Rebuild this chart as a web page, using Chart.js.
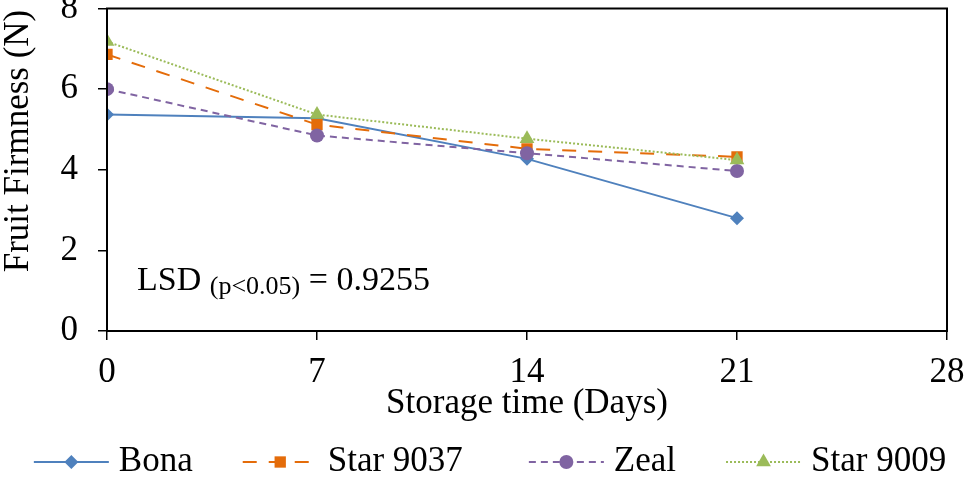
<!DOCTYPE html>
<html>
<head>
<meta charset="utf-8">
<script src="https://cdn.jsdelivr.net/npm/chart.js@4.4.1/dist/chart.umd.min.js"></script>
<style>
  html, body { margin: 0; padding: 0; background: #fff; }
</style>
</head>
<body>
<canvas id="firmChart" width="966" height="480"></canvas>
<script>
// --- Data ---
const days = [0, 7, 14, 21];
const bona = [5.37, 5.28, 4.27, 2.80];
const star9037 = [6.86, 5.12, 4.52, 4.32];
const zeal = [6.00, 4.85, 4.41, 3.97];
const star9009 = [7.18, 5.37, 4.77, 4.24];
const xTicks = [0, 7, 14, 21, 28];
const yTicks = [0, 2, 4, 6, 8];
const lsdText = { main: 'LSD', sub: '(p<0.05)', tail: ' = 0.9255' };

const FONT = '"Liberation Serif", "Times New Roman", serif';

// series styling (Excel-like)
const series = [
  { label: 'Bona',      values: bona,     color: '#4F81BD', dash: [],       style: 'rectRot',  radius: 7,   order: 4 },
  { label: 'Star 9037', values: star9037, color: '#E46C0A', dash: [14, 12], style: 'rect',     radius: 8,   order: 3 },
  { label: 'Zeal',      values: zeal,     color: '#8064A2', dash: [7, 5],   style: 'circle',   radius: 7,   order: 2 },
  { label: 'Star 9009', values: star9009, color: '#9BBB59', dash: [2, 2],   style: 'triangle', radius: 8.5, order: 1 }
];

function marker(g, style, cx, cy, r) {
  g.beginPath();
  if (style === 'rectRot') {
    g.moveTo(cx, cy - r); g.lineTo(cx + r, cy); g.lineTo(cx, cy + r); g.lineTo(cx - r, cy);
  } else if (style === 'rect') {
    const h = r * Math.SQRT1_2;
    g.rect(cx - h, cy - h, 2 * h, 2 * h);
  } else if (style === 'circle') {
    g.arc(cx, cy, r, 0, Math.PI * 2);
  } else {
    const a = Math.PI * 2 / 3;
    g.moveTo(cx, cy - r);
    g.lineTo(cx + r * Math.sin(a), cy - r * Math.cos(a));
    g.lineTo(cx - r * Math.sin(a), cy - r * Math.cos(a));
  }
  g.closePath();
  g.fill();
}

const datasets = series.map(s => ({
  label: s.label,
  data: days.map((d, i) => ({ x: d, y: s.values[i] })),
  borderColor: s.color,
  backgroundColor: s.color,
  borderWidth: 2,
  borderDash: s.dash,
  pointStyle: s.style,
  pointRadius: s.radius,
  pointBorderWidth: 0,
  pointBackgroundColor: s.color,
  tension: 0,
  order: s.order
}));

// frame, y title, LSD note and the legend row
const extras = {
  id: 'extras',
  afterDraw(chart) {
    const { ctx, chartArea: a } = chart;
    ctx.save();
    ctx.strokeStyle = '#000';
    ctx.lineWidth = 2;
    ctx.strokeRect(a.left, a.top, a.right - a.left, a.bottom - a.top);

    // y axis title
    ctx.fillStyle = '#000';
    ctx.font = '35px ' + FONT;
    ctx.textAlign = 'center';
    ctx.textBaseline = 'middle';
    ctx.translate(19, 141);
    ctx.rotate(-Math.PI / 2);
    ctx.fillText('Fruit Firmness (N)', 0, 0);
    ctx.restore();

    // LSD annotation
    ctx.save();
    ctx.fillStyle = '#000';
    ctx.textAlign = 'left';
    ctx.textBaseline = 'alphabetic';
    let x = a.left + 30;
    const base = a.bottom - 41;
    ctx.font = '34px ' + FONT;
    ctx.fillText(lsdText.main, x, base);
    x += ctx.measureText(lsdText.main + ' ').width;
    ctx.font = '26px ' + FONT;
    ctx.fillText(lsdText.sub, x, base + 4);
    x += ctx.measureText(lsdText.sub).width;
    ctx.font = '34px ' + FONT;
    ctx.fillText(lsdText.tail, x, base);
    ctx.restore();

    // legend: line sample + marker + label
    ctx.save();
    ctx.font = '35px ' + FONT;
    const lineLen = 75, textGap = 10, gaps = [50, 66, 50], ly = 462;
    const widths = series.map(s => lineLen + textGap + ctx.measureText(s.label).width);
    const total = widths.reduce((p, w) => p + w, 0) + gaps.reduce((p, g) => p + g, 0);
    let lx = 490 - total / 2;
    series.forEach((s, i) => {
      ctx.strokeStyle = s.color;
      ctx.lineWidth = 2;
      ctx.setLineDash(s.dash);
      ctx.beginPath(); ctx.moveTo(lx, ly); ctx.lineTo(lx + lineLen, ly); ctx.stroke();
      ctx.setLineDash([]);
      ctx.fillStyle = s.color;
      marker(ctx, s.style, lx + lineLen / 2, ly, s.radius);
      ctx.fillStyle = '#000';
      ctx.textAlign = 'left';
      ctx.textBaseline = 'middle';
      ctx.fillText(s.label, lx + lineLen + textGap, ly);
      lx += widths[i] + (gaps[i] || 0);
    });
    ctx.restore();
  }
};

const chart = new Chart(document.getElementById('firmChart'), {
  type: 'line',
  data: { datasets: datasets },
  options: {
    responsive: false,
    animation: false,
    devicePixelRatio: 1,
    layout: { padding: { top: 7, right: 19, left: 0, bottom: 55 } },
    scales: {
      x: {
        type: 'linear',
        min: 0, max: 28,
        afterBuildTicks: s => { s.ticks = xTicks.map(v => ({ value: v })); },
        afterFit: s => { s.paddingLeft = 0; s.paddingRight = 0; s.height = 94; },
        grid: { drawOnChartArea: false, drawTicks: true, tickLength: 9, color: '#000', lineWidth: 1.5 },
        border: { display: true, color: '#000', width: 2 },
        ticks: { color: '#000', font: { family: FONT, size: 35 }, padding: 12, maxRotation: 0 },
        title: { display: true, text: 'Storage time (Days)', color: '#000', font: { family: FONT, size: 35 }, padding: { top: 0, bottom: 0 } }
      },
      y: {
        min: 0, max: 8,
        afterBuildTicks: s => { s.ticks = yTicks.map(v => ({ value: v })); },
        afterFit: s => { s.width = 107; s.paddingTop = 0; s.paddingBottom = 0; },
        grid: { drawOnChartArea: false, drawTicks: true, tickLength: 9, color: '#000', lineWidth: 1.5 },
        border: { display: true, color: '#000', width: 2 },
        ticks: { color: '#000', font: { family: FONT, size: 35 }, padding: 20 }
      }
    },
    plugins: {
      tooltip: { enabled: false },
      legend: { display: false }
    }
  },
  plugins: [extras]
});
</script>
</body>
</html>
